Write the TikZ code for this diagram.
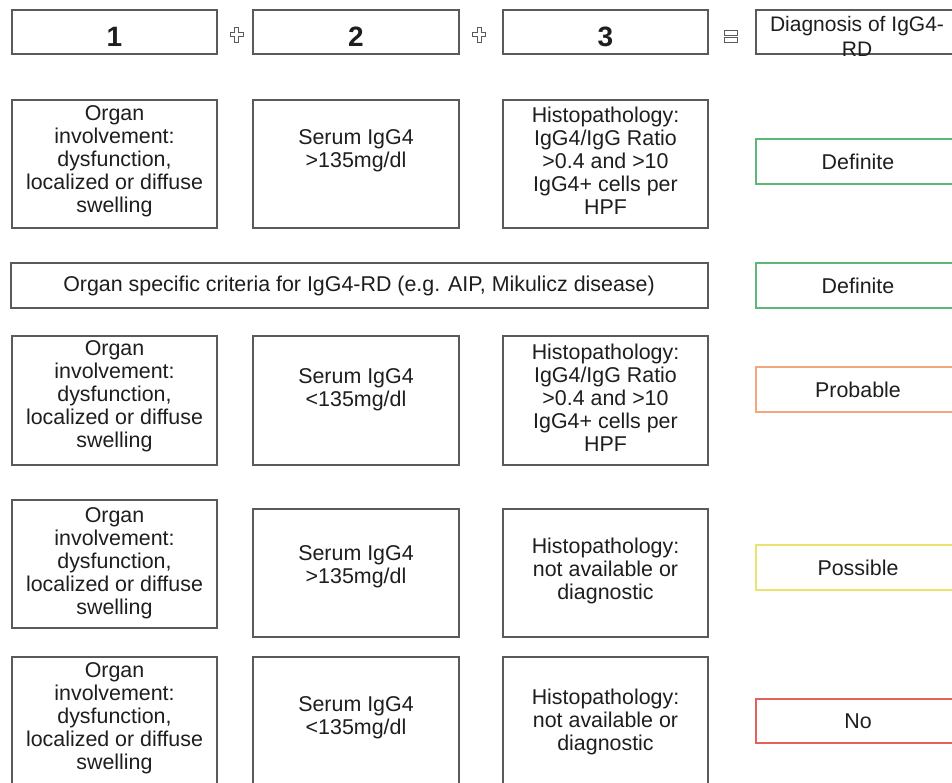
\documentclass[tikz,border=0pt]{standalone}
\usepackage{fontspec}
\setmainfont{Liberation Sans}
\usetikzlibrary{shadows}
\definecolor{boxgray}{HTML}{5A5A5A}
\definecolor{txtcol}{HTML}{1E1E1E}
\definecolor{defgreen}{HTML}{5CB873}
\definecolor{proborange}{HTML}{F4A77C}
\definecolor{possyellow}{HTML}{EAE36E}
\definecolor{nored}{HTML}{E6605E}
\tikzset{
  cell/.style={draw=boxgray, line width=1.4pt, fill=white, inner sep=0pt, rectangle,
    drop shadow={shadow xshift=0.6pt, shadow yshift=-1.4pt, opacity=0.22}},
  verdict/.style={cell, draw=#1},
  txt/.style={font=\fontsize{21.4}{23}\selectfont, align=center, inner sep=0pt, text=txtcol},
  bigtxt/.style={font=\fontsize{28}{32}\selectfont\bfseries, inner sep=0pt, text=txtcol},
  sym/.style={draw=boxgray, line width=0.9pt, fill=white},
}
\begin{document}
\begin{tikzpicture}[x=1pt,y=-1pt]
\useasboundingbox (0,0) rectangle (952,783);
\clip (0,0) rectangle (952,783);
\fill[white] (0,0) rectangle (952,783);

% header row
\node[cell, minimum width=205pt, minimum height=44pt] (h1) at (114.5,32) {};
\node[cell, minimum width=206pt, minimum height=44pt] (h2) at (356,32) {};
\node[cell, minimum width=205pt, minimum height=44pt] (h3) at (605.5,32) {};
\node[cell, minimum width=206pt, minimum height=44pt] (h4) at (859,32) {};
\node[bigtxt, anchor=base] (t1) at (114.5,47) {1};
\node[bigtxt, anchor=base] (t2) at (356,47) {2};
\node[bigtxt, anchor=base] (t3) at (605.5,47) {3};
\node[txt, font=\fontsize{21}{25}\selectfont, anchor=north] (t4) at (857,16.5) {Diagnosis of IgG4-\\RD};

% plus and equals signs
\path[sym] (234.5,27) -- (238.5,27) -- (238.5,32.5) -- (243,32.5) -- (243,36.5) -- (238.5,36.5) -- (238.5,42)
  -- (234.5,42) -- (234.5,36.5) -- (230,36.5) -- (230,32.5) -- (234.5,32.5) -- cycle;
\path[sym] (477,27) -- (481,27) -- (481,32.5) -- (485.5,32.5) -- (485.5,36.5) -- (481,36.5) -- (481,42)
  -- (477,42) -- (477,36.5) -- (472.5,36.5) -- (472.5,32.5) -- (477,32.5) -- cycle;
\path[sym] (724,30.5) rectangle (737,35);
\path[sym] (724,37.5) rectangle (737,42);

% row 1
\node[cell, minimum width=205pt, minimum height=128pt] (a1) at (114.5,164) {};
\node[cell, minimum width=206pt, minimum height=128pt] (b1) at (356,164) {};
\node[cell, minimum width=205pt, minimum height=128pt] (c1) at (605.5,164) {};
\node[verdict=defgreen, minimum width=206pt, minimum height=45pt] (d1) at (859,161.5) {};
\node[txt] (ta1) at (114.5,161.5) {Organ\\involvement:\\dysfunction,\\localized or diffuse\\swelling};
\node[txt] (tb1) at (356,151) {Serum IgG4\\>135mg/dl};
\node[txt] (tc1) at (605.5,161) {Histopathology:\\IgG4/IgG Ratio\\>0.4 and >10\\IgG4+ cells per\\HPF};
\node[txt] (td1) at (858,162) {Definite};

% row 2
\node[cell, minimum width=697pt, minimum height=45pt] (a2) at (359.5,285.5) {};
\node[verdict=defgreen, minimum width=206pt, minimum height=45pt] (d2) at (859,285.5) {};
\node[txt] (ta2) at (359,286) {Organ specific criteria for IgG4-RD (e.g. AIP, Mikulicz disease)};
\node[txt] (td2) at (858,286) {Definite};

% row 3
\node[cell, minimum width=205pt, minimum height=129pt] (a3) at (114.5,400.5) {};
\node[cell, minimum width=206pt, minimum height=129pt] (b3) at (356,400.5) {};
\node[cell, minimum width=205pt, minimum height=129pt] (c3) at (605.5,400.5) {};
\node[verdict=proborange, minimum width=206pt, minimum height=45pt] (d3) at (859,389.5) {};
\node[txt] (ta3) at (114.5,396.5) {Organ\\involvement:\\dysfunction,\\localized or diffuse\\swelling};
\node[txt] (tb3) at (356,390) {Serum IgG4\\<135mg/dl};
\node[txt] (tc3) at (605.5,398) {Histopathology:\\IgG4/IgG Ratio\\>0.4 and >10\\IgG4+ cells per\\HPF};
\node[txt] (td3) at (858,390) {Probable};

% row 4
\node[cell, minimum width=205pt, minimum height=128pt] (a4) at (114.5,564) {};
\node[cell, minimum width=206pt, minimum height=128pt] (b4) at (356,573) {};
\node[cell, minimum width=205pt, minimum height=128pt] (c4) at (605.5,573) {};
\node[verdict=possyellow, minimum width=206pt, minimum height=45pt] (d4) at (859,567.5) {};
\node[txt] (ta4) at (114.5,563.5) {Organ\\involvement:\\dysfunction,\\localized or diffuse\\swelling};
\node[txt] (tb4) at (356,567) {Serum IgG4\\>135mg/dl};
\node[txt] (tc4) at (605.5,571) {Histopathology:\\not available or\\diagnostic};
\node[txt] (td4) at (858,568) {Possible};

% row 5
\node[cell, minimum width=205pt, minimum height=128pt] (a5) at (114.5,721) {};
\node[cell, minimum width=206pt, minimum height=128pt] (b5) at (356,721) {};
\node[cell, minimum width=205pt, minimum height=128pt] (c5) at (605.5,721) {};
\node[verdict=nored, minimum width=206pt, minimum height=44pt] (d5) at (859,721) {};
\node[txt] (ta5) at (114.5,718) {Organ\\involvement:\\dysfunction,\\localized or diffuse\\swelling};
\node[txt] (tb5) at (356,718) {Serum IgG4\\<135mg/dl};
\node[txt] (tc5) at (605.5,722) {Histopathology:\\not available or\\diagnostic};
\node[txt] (td5) at (858,721) {No};
\end{tikzpicture}
\end{document}
